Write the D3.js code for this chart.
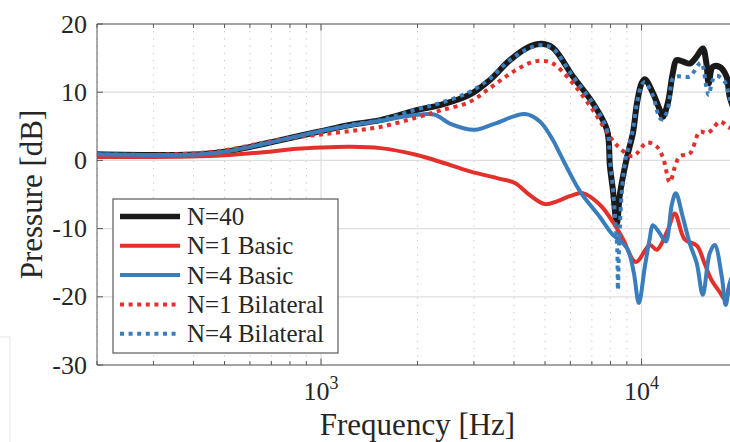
<!DOCTYPE html>
<html>
<head>
<meta charset="utf-8">
<script src="https://cdn.jsdelivr.net/npm/d3@7"></script>
<style>
  body { margin: 0; background: #fff; }
  svg { display: block; }
</style>
</head>
<body>
<div id="chart"></div>
<script>
// ---- data (frequency in Hz, pressure in dB) ----
const seriesNames = ["N=40", "N=1 Basic", "N=4 Basic", "N=1 Bilateral", "N=4 Bilateral"];

const freqN40 = [200, 300, 420, 520, 660, 840, 1000, 1230, 1530, 2000, 2350, 2900, 3365, 3885, 4480, 4890, 5290, 6110, 7050, 7800, 7970, 8140, 8375, 8560, 8870, 9065, 9400, 9680, 10000, 10240, 10845, 11405, 11653, 12078, 12520, 12860, 13450, 14145, 14850, 15530, 15930, 16200, 16683, 17541, 18420, 18844, 20000];
const prsN40  = [0.9, 0.8, 0.9, 1.4, 2.4, 3.5, 4.3, 5.2, 5.9, 7.4, 8.1, 9.6, 11.8, 14.7, 16.7, 17.1, 16.5, 12.3, 8.4, 4.5, -0.9, -4.3, -9.3, -5.0, -1.0, 1.0, 4.0, 8.4, 11.3, 11.9, 9.9, 7.4, 6.4, 8.4, 12.8, 14.7, 14.5, 14.2, 15.2, 16.4, 14.3, 11.3, 13.7, 13.7, 12.3, 9.3, 6.0];

const freqN1Basic = [200, 300, 420, 520, 660, 840, 1000, 1230, 1530, 1992, 2350, 2915, 3615, 4026, 4484, 4994, 5443, 6000, 6561, 7413, 8139, 8744, 9600, 10614, 11162, 12078, 12700, 13646, 14874, 15753, 16564, 17541, 18312, 18844, 20000];
const prsN1Basic  = [0.5, 0.5, 0.6, 0.8, 1.2, 1.7, 1.9, 2.0, 1.8, 0.8, -0.2, -1.6, -2.7, -3.3, -5.1, -6.4, -6.0, -5.2, -4.8, -6.5, -9.0, -11.5, -14.9, -12.4, -13.1, -10.2, -7.8, -11.6, -12.5, -15.2, -17.6, -19.3, -20.5, -18.3, -17.0];

const freqN4Basic = [200, 300, 420, 520, 660, 840, 1000, 1230, 1530, 1992, 2268, 2525, 3022, 3488, 4327, 4818, 5289, 5562, 6421, 7413, 8139, 8557, 9065, 9463, 9808, 10240, 10614, 10845, 11405, 11907, 12430, 12794, 13453, 14145, 14874, 15529, 16326, 16923, 17795, 18312, 18844, 20000];
const prsN4Basic  = [0.9, 0.8, 0.9, 1.4, 2.4, 3.5, 4.3, 5.1, 5.8, 6.7, 6.7, 5.4, 4.5, 5.4, 6.8, 5.7, 3.0, 1.0, -4.5, -8.3, -10.9, -11.7, -13.1, -16.5, -20.9, -15.6, -11.4, -9.5, -10.7, -11.9, -6.5, -4.8, -8.3, -12.2, -15.1, -19.7, -13.6, -12.4, -17.0, -21.2, -18.0, -15.0];

const freqN1Bilat = [200, 300, 420, 520, 660, 840, 1000, 1230, 1528, 1992, 2350, 2915, 3365, 3885, 4484, 4888, 5290, 6107, 7049, 7966, 8557, 9396, 10387, 11162, 11653, 12250, 12700, 13166, 14145, 15198, 15980, 16683, 17541, 18844, 20000];
const prsN1Bilat  = [0.8, 0.8, 1.1, 1.6, 2.6, 3.4, 3.8, 4.3, 4.9, 6.3, 7.3, 8.6, 10.6, 12.7, 14.3, 14.6, 14.2, 11.3, 7.4, 3.5, 1.8, 0.6, 2.6, 2.0, 0.5, -3.2, -1.0, 0.6, 1.0, 4.2, 4.0, 4.6, 5.7, 4.8, 4.5];

const freqN4Bilat = [200, 300, 420, 520, 660, 840, 1000, 1230, 1530, 2000, 2350, 2900, 3365, 3885, 4480, 4890, 5290, 6110, 7050, 7800, 7970, 8140, 8260, 8400, 8440, 8520, 8700, 8900, 9065, 9400, 9680, 10000, 10240, 10845, 11405, 11653, 12078, 12520, 12860, 13450, 14145, 15330, 15930, 16200, 16683, 17170, 18200, 18844, 20000];
const prsN4Bilat  = [0.9, 0.8, 0.9, 1.4, 2.4, 3.5, 4.3, 5.2, 5.9, 7.5, 8.4, 10.0, 12.0, 14.7, 16.5, 16.9, 16.4, 12.3, 8.4, 4.5, 0.0, -4.0, -8.0, -13.0, -19.0, -12.0, -4.0, 0.0, 1.5, 4.5, 8.4, 11.0, 11.5, 9.5, 6.2, 6.0, 7.5, 12.0, 12.3, 12.3, 12.3, 14.3, 10.8, 9.6, 11.8, 12.4, 11.5, 9.1, 6.0];

const yTicks = [-30, -20, -10, 0, 10, 20];
const xMajor = [1000, 10000];
const xMajorExp = ["3", "4"];

const series = [
  { name: seriesNames[0], f: freqN40,     p: prsN40,     color: "#1a1a1a", width: 6, dash: null },
  { name: seriesNames[1], f: freqN1Basic, p: prsN1Basic, color: "#e3302b", width: 4, dash: null },
  { name: seriesNames[2], f: freqN4Basic, p: prsN4Basic, color: "#3a7dbc", width: 4, dash: null },
  { name: seriesNames[3], f: freqN1Bilat, p: prsN1Bilat, color: "#e3302b", width: 4, dash: "4,4.6" },
  { name: seriesNames[4], f: freqN4Bilat, p: prsN4Bilat, color: "#3a7dbc", width: 4, dash: "4,4.6" }
];

// ---- layout ----
const W = 730, H = 442;
const margin = { top: 24, left: 97, right: -8, bottom: 77 };   // right edge of the axes falls just off the picture
const x0 = margin.left, x1 = W - margin.right, y0 = margin.top, y1 = H - margin.bottom;
const FONT = "Liberation Serif";

const x = d3.scaleLog().domain([200, 20000]).range([x0, x1]);
const y = d3.scaleLinear().domain([-30, 20]).range([y1, y0]);

const svg = d3.select("#chart").append("svg")
  .attr("width", W).attr("height", H)
  .attr("font-family", FONT);

// faint page artefacts at lower left
svg.append("path").attr("d", "M0,337H10V442").attr("fill", "none").attr("stroke", "#eeeeee").attr("stroke-width", 1.5);

svg.append("clipPath").attr("id", "plotclip")
  .append("rect").attr("x", x0).attr("y", y0).attr("width", x1 - x0).attr("height", y1 - y0);

// grid
const allX = x.ticks();
const minorX = allX.filter(d => !xMajor.includes(d));
const grid = svg.append("g");
grid.selectAll("line.minor").data(minorX).join("line")
  .attr("x1", d => x(d)).attr("x2", d => x(d)).attr("y1", y0).attr("y2", y1)
  .attr("stroke", "#c4c4c4").attr("stroke-width", 1).attr("stroke-dasharray", "1.2,6");
grid.selectAll("line.xmaj").data(xMajor).join("line")
  .attr("x1", d => x(d)).attr("x2", d => x(d)).attr("y1", y0).attr("y2", y1)
  .attr("stroke", "#dedede").attr("stroke-width", 1.2);
grid.selectAll("line.ymaj").data(yTicks).join("line")
  .attr("x1", x0).attr("x2", x1).attr("y1", d => y(d)).attr("y2", d => y(d))
  .attr("stroke", "#dedede").attr("stroke-width", 1.2);

// curves
const line = d3.line()
  .x(d => x(d[0])).y(d => y(d[1]))
  .curve(d3.curveCatmullRom.alpha(0.5));

svg.append("g").attr("clip-path", "url(#plotclip)")
  .selectAll("path").data(series).join("path")
  .attr("d", s => line(d3.zip(s.f, s.p)))
  .attr("fill", "none")
  .attr("stroke", s => s.color)
  .attr("stroke-width", s => s.width)
  .attr("stroke-dasharray", s => s.dash)
  .attr("stroke-linejoin", "round");

// axes box and ticks
const axisColor = "#5a5a5a";
const ax = svg.append("g");
ax.append("line").attr("x1", x0).attr("x2", x0).attr("y1", y0).attr("y2", y1).attr("stroke", axisColor);
ax.append("line").attr("x1", x0).attr("x2", x1).attr("y1", y1).attr("y2", y1).attr("stroke", axisColor);
ax.append("line").attr("x1", x0).attr("x2", x1).attr("y1", y0).attr("y2", y0).attr("stroke", axisColor);

ax.selectAll("line.yt").data(yTicks).join("line")
  .attr("x1", x0).attr("x2", x0 + 6).attr("y1", d => y(d)).attr("y2", d => y(d))
  .attr("stroke", axisColor);
ax.selectAll("line.xb").data(allX).join("line")
  .attr("x1", d => x(d)).attr("x2", d => x(d))
  .attr("y1", y1).attr("y2", d => y1 - (xMajor.includes(d) ? 6.5 : 4))
  .attr("stroke", axisColor);
ax.selectAll("line.xt").data(allX).join("line")
  .attr("x1", d => x(d)).attr("x2", d => x(d))
  .attr("y1", y0).attr("y2", d => y0 + (xMajor.includes(d) ? 6.5 : 4))
  .attr("stroke", axisColor);

// tick labels
svg.selectAll("text.ylab").data(yTicks).join("text")
  .attr("fill", "#262626")
  .attr("x", x0 - 10).attr("y", d => y(d)).attr("dy", "0.33em")
  .attr("text-anchor", "end").attr("font-size", 26)
  .text(d => d);

const xl = svg.selectAll("text.xlab").data(xMajor).join("text")
  .attr("fill", "#262626")
  .attr("x", d => x(d)).attr("y", y1 + 35)
  .attr("text-anchor", "middle").attr("font-size", 26);
xl.append("tspan").text("10");
xl.append("tspan").attr("font-size", 18).attr("dy", -11).text((d, i) => xMajorExp[i]);

// axis titles
svg.append("text")
  .attr("fill", "#262626")
  .attr("x", (x0 + x1) / 2).attr("y", 435)
  .attr("text-anchor", "middle").attr("font-size", 31)
  .text("Frequency [Hz]");
svg.append("text")
  .attr("fill", "#262626")
  .attr("transform", `translate(42,${(y0 + y1) / 2}) rotate(-90)`)
  .attr("text-anchor", "middle").attr("font-size", 31)
  .text("Pressure [dB]");

// legend
const lg = svg.append("g").attr("transform", "translate(113,199)");
lg.append("rect").attr("width", 225).attr("height", 154)
  .attr("fill", "#fff").attr("stroke", axisColor).attr("stroke-width", 1.2);
const row = lg.selectAll("g").data(series).join("g")
  .attr("transform", (s, i) => `translate(0,${17.5 + i * 29.3})`);
row.append("line").attr("x1", 7).attr("x2", 67)
  .attr("stroke", s => s.color).attr("stroke-width", s => s.width === 6 ? 5.5 : 4)
  .attr("stroke-dasharray", s => s.dash);
row.append("text").attr("x", 74).attr("dy", "0.34em")
  .attr("fill", "#262626")
  .attr("font-size", 25).text(s => s.name);
</script>
</body>
</html>
